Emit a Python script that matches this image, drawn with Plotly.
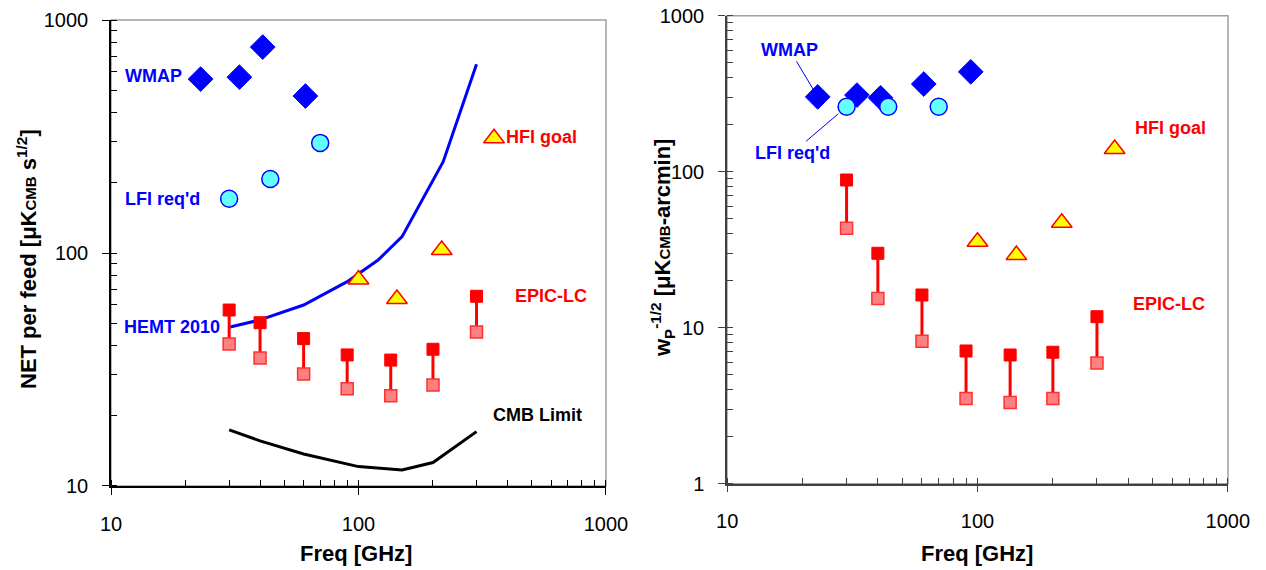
import math
import plotly.graph_objects as go

# ---------------- data ----------------
# Left panel: NET per feed [uK_CMB s^1/2]
wmap_freq_L = [23, 33, 41, 61]
wmap_net = [558, 569, 766, 472]
lfi_freq = [30, 44, 70]
lfi_net = [171, 208, 297]
hfi_freq = [100, 143, 217, 353]
hfi_net = [77, 63.5, 103, 311]
epic_freq = [30, 40, 60, 90, 135, 200, 300]
epic_net_hi = [56.9, 50.2, 42.9, 36.5, 34.7, 38.6, 65.2]
epic_net_lo = [40.7, 35.4, 30.2, 26.1, 24.4, 27.1, 45.8]
hemt_freq = [30, 40, 60, 90, 120, 150, 220, 300]
hemt_net = [48.0, 51.6, 59.8, 75.3, 93.3, 117.5, 246.6, 647]
cmb_freq = [30, 40, 60, 100, 150, 200, 300]
cmb_net = [17.4, 15.6, 13.7, 12.1, 11.7, 12.6, 17.1]

# Right panel: w_P^-1/2 [uK_CMB-arcmin]
wmap_freq_R = [23, 33, 41, 61, 94]
wmap_wp = [302, 310, 298, 365, 437]
lfi_wp = [261, 261, 261]
hfi_wp = [35.6, 29.2, 47.1, 140]
epic_wp_hi = [88.5, 30.0, 16.2, 7.09, 6.68, 6.96, 11.76]
epic_wp_lo = [43.4, 15.4, 8.18, 3.51, 3.31, 3.51, 5.94]

x_ticks = [10, 100, 1000]
x_ticktext = ["10", "100", "1000"]
yL_ticks = [10, 100, 1000]
yL_ticktext = ["10", "100", "1000"]
yR_ticks = [1, 10, 100, 1000]
yR_ticktext = ["1", "10", "100", "1000"]

# ---------------- styling ----------------
FONT = "Liberation Sans, Arial, sans-serif"
BLUE = "#0000FF"
RED = "#FF0000"
PINK = "#FF8080"
CYAN = "#66FFFF"
YELLOW = "#FFFF00"

W, H = 1266, 570
EPS = 0.0005


def fx(px):
    return px / W


def fy(py):
    return 1 - py / H


fig = go.Figure()


def connectors(freqs, hi, lo):
    xs, ys = [], []
    for f, h, l in zip(freqs, hi, lo):
        xs += [f, f, None]
        ys += [h, l, None]
    return xs, ys


def add_panel(xa, ya, wmap_f, wmap_v, lfi_v, hfi_v, ehi, elo, extra_lines):
    for (lx, ly, color) in extra_lines:
        fig.add_trace(go.Scatter(x=lx, y=ly, mode="lines", xaxis=xa, yaxis=ya,
                                 line=dict(color=color, width=3), showlegend=False,
                                 hoverinfo="skip"))
    cx, cy = connectors(epic_freq, ehi, elo)
    fig.add_trace(go.Scatter(x=cx, y=cy, mode="lines", xaxis=xa, yaxis=ya,
                             line=dict(color=RED, width=3), showlegend=False,
                             hoverinfo="skip"))
    fig.add_trace(go.Scatter(x=wmap_f, y=wmap_v, mode="markers", xaxis=xa, yaxis=ya,
                             marker=dict(symbol="diamond", size=19, color=BLUE,
                                         line=dict(color=BLUE, width=1)),
                             showlegend=False))
    fig.add_trace(go.Scatter(x=lfi_freq, y=lfi_v, mode="markers", xaxis=xa, yaxis=ya,
                             marker=dict(symbol="circle", size=17, color=CYAN,
                                         line=dict(color=BLUE, width=1.5)),
                             showlegend=False))
    fig.add_trace(go.Scatter(x=hfi_freq, y=hfi_v, mode="markers", xaxis=xa, yaxis=ya,
                             marker=dict(symbol="triangle-up", size=18, color=YELLOW,
                                         line=dict(color=RED, width=1.5)),
                             showlegend=False))
    fig.add_trace(go.Scatter(x=epic_freq, y=elo, mode="markers", xaxis=xa, yaxis=ya,
                             marker=dict(symbol="square", size=12, color=PINK,
                                         line=dict(color="#FF3030", width=1.5)),
                             showlegend=False))
    fig.add_trace(go.Scatter(x=epic_freq, y=ehi, mode="markers", xaxis=xa, yaxis=ya,
                             marker=dict(symbol="square", size=12, color=RED,
                                         line=dict(color=RED, width=1)),
                             showlegend=False))


add_panel("x", "y", wmap_freq_L, wmap_net, lfi_net, hfi_net, epic_net_hi, epic_net_lo,
          [(hemt_freq, hemt_net, BLUE), (cmb_freq, cmb_net, "black")])
add_panel("x2", "y2", wmap_freq_R, wmap_wp, lfi_wp, hfi_wp, epic_wp_hi, epic_wp_lo, [])


def minor_vals(lo_exp, hi_exp):
    vals = []
    for e in range(lo_exp, hi_exp):
        for m in range(1, 10):
            vals.append(m * 10 ** e)
    vals.append(10 ** hi_exp)
    return vals


def axis(domain, anchor, rng, tickvals, ticktext, linecolor, standoff, minors):
    return dict(type="log", domain=domain, anchor=anchor, range=rng, automargin=False,
                tickmode="array", tickvals=tickvals, ticktext=ticktext,
                showline=True, linecolor=linecolor, linewidth=1.5,
                ticks="outside", ticklen=7, tickcolor=linecolor, tickwidth=1,
                minor=dict(tickmode="array", tickvals=minors, ticks="inside",
                           ticklen=6, tickcolor=linecolor, tickwidth=1, showgrid=False),
                showgrid=False, zeroline=False,
                tickfont=dict(family=FONT, size=20, color="black"),
                ticklabeloverflow="allow",
                ticklabelstandoff=standoff)


fig.update_layout(
    width=W, height=H,
    margin=dict(l=0, r=0, t=0, b=0, autoexpand=False),
    paper_bgcolor="white", plot_bgcolor="white",
    xaxis=axis([fx(111), fx(606)], "y", [1 - EPS, 3 + EPS], x_ticks, x_ticktext, "black", 12, minor_vals(1, 3)),
    yaxis=axis([fy(486), fy(20)], "x", [1 - EPS, 3 + EPS], yL_ticks, yL_ticktext, "black", 10, minor_vals(1, 3)),
    xaxis2=axis([fx(727), fx(1228)], "y2", [1 - EPS, 3 + EPS], x_ticks, x_ticktext, "#404040", 12, minor_vals(1, 3)),
    yaxis2=axis([fy(483.7), fy(15.7)], "x2", [0 - EPS, 3 + EPS], yR_ticks, yR_ticktext, "#404040", 10, minor_vals(0, 3)),
    showlegend=False,
)

# plot-area borders (top/right in grey)
for xa, ya in [("x", "y"), ("x2", "y2")]:
    fig.add_shape(type="rect", xref=f"{xa} domain", yref=f"{ya} domain",
                  x0=0, x1=1, y0=0, y1=1, line=dict(color="#A0A0A0", width=1.5),
                  layer="below")


def label(px, py, text, color, size=18, angle=0):
    fig.add_annotation(x=fx(px), y=fy(py), xref="paper", yref="paper",
                       text=text, showarrow=False, textangle=angle,
                       xanchor="center", yanchor="middle",
                       font=dict(family=FONT, size=size, color=color))


B = lambda s: f"<b>{s}</b>"

# left panel labels
label(153, 76, B("WMAP"), BLUE)
label(163, 199, B("LFI req'd"), BLUE)
label(172, 327, B("HEMT 2010"), BLUE)
label(541, 137, B("HFI goal"), RED)
label(551, 296, B("EPIC-LC"), RED)
label(537, 415, B("CMB Limit"), "black")

# right panel labels (HFI / EPIC)
label(1170, 128, B("HFI goal"), RED)
label(1169, 304, B("EPIC-LC"), RED)

# right panel WMAP / LFI labels with leader lines to the first point of each series
fig.add_annotation(x=math.log10(wmap_freq_R[0]), y=math.log10(wmap_wp[0]), xref="x2", yref="y2",
                   text=B("WMAP"), showarrow=True, arrowhead=0, arrowwidth=1,
                   arrowcolor=BLUE, ax=-28, ay=-47, standoff=7,
                   font=dict(family=FONT, size=18, color=BLUE))
fig.add_annotation(x=math.log10(lfi_freq[0]), y=math.log10(lfi_wp[0]), xref="x2", yref="y2",
                   text=B("LFI req'd"), showarrow=True, arrowhead=0, arrowwidth=1,
                   arrowcolor=BLUE, ax=-54, ay=46, standoff=11,
                   font=dict(family=FONT, size=18, color=BLUE))

# axis titles
label(356, 553, B("Freq [GHz]"), "black", size=22)
label(977, 553, B("Freq [GHz]"), "black", size=22)
label(27, 259, B("NET per feed [μK<span style='font-size:15px'>CMB</span> s<sup>1/2</sup>]"),
      "black", size=22, angle=-90)
label(662, 248, B("w<sub><span style='font-size:15px'>P</span></sub><sup>-1/2</sup> [μK<span style='font-size:15px'>CMB</span>-arcmin]"),
      "black", size=22, angle=-90)

# remove the default 8px page margin so the figure fills the window exactly
fig.write_html("out.html",
               config={"displayModeBar": False},
               post_script="document.body.style.margin='0px';document.body.style.overflow='hidden';")
